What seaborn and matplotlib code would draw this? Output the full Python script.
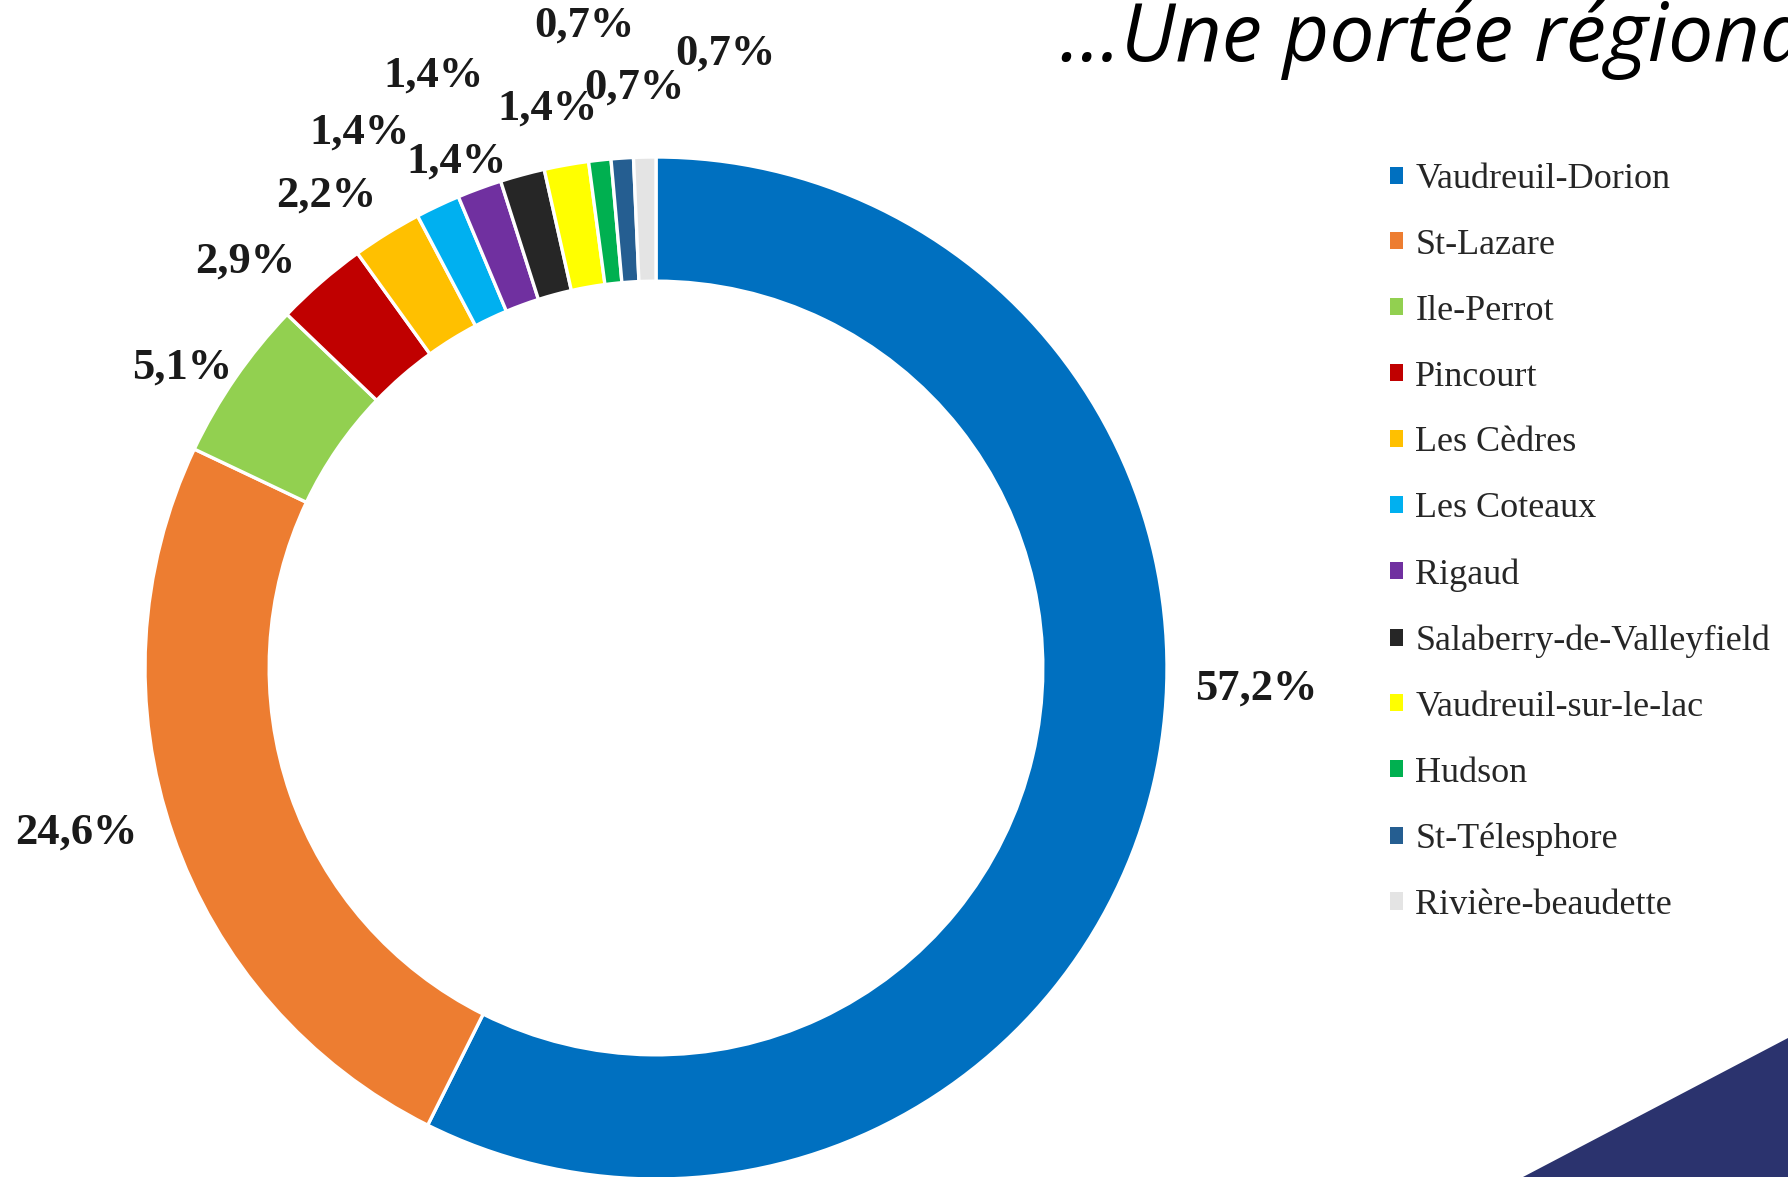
import matplotlib
matplotlib.use("Agg")
import matplotlib.pyplot as plt
import seaborn as sns
from matplotlib.patches import Patch, Polygon

# data
villes = ["Vaudreuil-Dorion", "St-Lazare", "Ile-Perrot", "Pincourt", "Les Cèdres",
          "Les Coteaux", "Rigaud", "Salaberry-de-Valleyfield", "Vaudreuil-sur-le-lac",
          "Hudson", "St-Télesphore", "Rivière-beaudette"]
pourcentages = [57.2, 24.6, 5.1, 2.9, 2.2, 1.4, 1.4, 1.4, 1.4, 0.7, 0.7, 0.7]
couleurs = ["#0070C0", "#ED7D31", "#92D050", "#C00000", "#FFC000", "#00B0F0",
            "#7030A0", "#262626", "#FFFF00", "#00B050", "#255E91", "#E4E4E4"]

# where the data labels sit (in units of the outer radius), like the Excel layout
label_xy = [(1.174, -0.041), (-1.135, -0.323), (-0.928, 0.587), (-0.804, 0.796),
            (-0.646, 0.924), (-0.581, 1.047), (-0.391, 0.992), (-0.436, 1.159),
            (-0.213, 1.094), (-0.141, 1.258), (-0.043, 1.135), (0.135, 1.202)]

sns.set_theme(style="white")
palette = sns.color_palette(couleurs)

W, H = 1788, 1177
fig = plt.figure(figsize=(W / 100, H / 100), dpi=100)
fig.patch.set_facecolor("white")

# ring geometry in pixels
cx, cy, R = 656, 668, 511
ax = fig.add_axes([(cx - R) / W, (H - cy - R) / H, 2 * R / W, 2 * R / H])

wedges, _ = ax.pie(pourcentages, colors=palette, startangle=90, counterclock=False,
                   radius=1.0,
                   wedgeprops=dict(width=0.243, edgecolor="white", linewidth=2.4))
ax.set_xlim(-1, 1)
ax.set_ylim(-1, 1)
ax.set_aspect("equal")
ax.axis("off")
for w in wedges:
    w.set_clip_on(False)

for val, (lx, ly) in zip(pourcentages, label_xy):
    ax.text(lx, ly, f"{val:.1f}%".replace(".", ","), ha="center", va="center",
            family="Liberation Serif", fontweight="bold", fontsize=32,
            color="#1a1a1a", clip_on=False)

# legend
handles = [Patch(facecolor=c, edgecolor="none") for c in palette]
fig.legend(handles, villes, loc="upper left",
           bbox_to_anchor=(1390 / W, 1 - 163 / H), frameon=False,
           prop=dict(family="Liberation Serif", size=26),
           handlelength=0.35, handleheight=0.35, handletextpad=0.35,
           labelspacing=0.91, borderpad=0, borderaxespad=0)
for t in fig.legends[0].get_texts():
    t.set_color("#262626")

# title (runs off the slide edge like the original)
fig.text(1060 / W, 1 - 61 / H, "...Une portée régionale", family="Open Sans",
         fontstyle="italic", fontsize=58, ha="left", va="baseline", color="black")

# navy corner decoration of the slide
fig.patches.append(Polygon([(1523 / W, 0), (1.0, 1 - 1038 / H), (1.0, 0)],
                           closed=True, transform=fig.transFigure,
                           facecolor="#2B336E", edgecolor="none"))

fig.savefig("out.png", dpi=100, facecolor="white")
